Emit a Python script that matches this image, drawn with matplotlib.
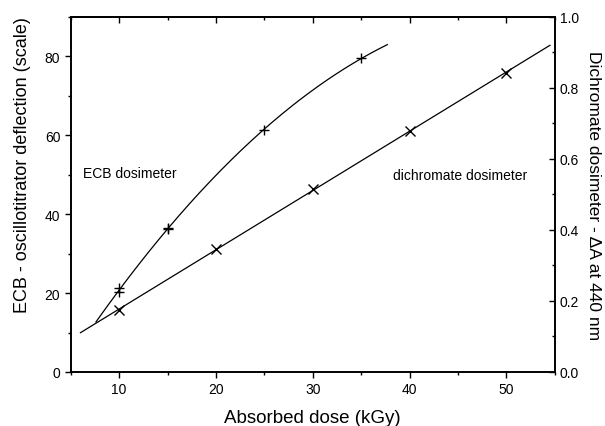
import matplotlib
matplotlib.use("Agg")
import matplotlib.pyplot as plt
from matplotlib.ticker import MultipleLocator
import numpy as np

plt.rcParams['font.family'] = ['Liberation Sans', 'DejaVu Sans']

# ECB dosimeter readings (scale deflection)
ecb_dose = [10, 10, 15, 15, 25, 35]
ecb_defl = [21.2, 20.2, 36.6, 36.2, 61.4, 79.5]
ecb_range = (7.6, 37.7)

# dichromate dosimeter readings (delta A at 440 nm)
dic_dose = [10, 20, 30, 40, 50]
dic_abs = [0.174, 0.346, 0.515, 0.679, 0.842]
dic_range = (6.0, 54.5)

fig = plt.figure(figsize=(6.05, 4.27), dpi=100)
ax = fig.add_axes([0.117, 0.1265, 0.8, 0.8315])
ax2 = ax.twinx()

# fitted curves
c = np.polyfit(ecb_dose, ecb_defl, 2)
xs = np.linspace(ecb_range[0], ecb_range[1], 200)
ax.plot(xs, np.polyval(c, xs), color='black', lw=0.9)
ax.plot(ecb_dose, ecb_defl, linestyle='none', marker='+', ms=7, mew=1.0, color='black')

d = np.polyfit(dic_dose, dic_abs, 1)
xd = np.linspace(dic_range[0], dic_range[1], 50)
ax2.plot(xd, np.polyval(d, xd), color='black', lw=0.9)
ax2.plot(dic_dose, dic_abs, linestyle='none', marker='x', ms=7, mew=1.0, color='black')

ax.set_xlim(5, 55)
ax.set_ylim(0, 90)
ax2.set_ylim(0, 1.0)

ax.xaxis.set_major_locator(MultipleLocator(10))
ax.xaxis.set_minor_locator(MultipleLocator(5))
ax.yaxis.set_major_locator(MultipleLocator(20))
ax.yaxis.set_minor_locator(MultipleLocator(10))
ax2.yaxis.set_major_locator(MultipleLocator(0.2))
ax2.yaxis.set_minor_locator(MultipleLocator(0.1))
ax2.yaxis.set_major_formatter(plt.FuncFormatter(lambda v, p: f"{v:.1f}"))

ax.tick_params(axis='x', which='both', direction='out', labelsize=10)
ax.tick_params(axis='y', which='both', direction='out', labelsize=10)
ax.tick_params(which='major', length=4, width=1)
ax.tick_params(which='minor', length=2.5, width=1)
ax2.tick_params(axis='y', which='both', direction='in', labelsize=10)
ax2.tick_params(which='major', length=4, width=1)
ax2.tick_params(which='minor', length=2.5, width=1)

# top ticks point inward
top = ax.secondary_xaxis('top')
top.xaxis.set_major_locator(MultipleLocator(10))
top.xaxis.set_minor_locator(MultipleLocator(5))
top.tick_params(which='both', direction='in', labeltop=False)
top.tick_params(which='major', length=4, width=1)
top.tick_params(which='minor', length=2.5, width=1)
top.spines['top'].set_linewidth(1.2)

for a in (ax, ax2):
    for s in a.spines.values():
        s.set_linewidth(1.2)

ax.set_xlabel("Absorbed dose (kGy)", fontsize=13.5, labelpad=9)
ax.set_ylabel("ECB - oscillotitrator deflection (scale)", fontsize=13)
ax.yaxis.set_label_coords(-0.082, 0.585)
ax2.set_ylabel("Dichromate dosimeter - \u0394A at 440 nm", fontsize=12.5,
               rotation=270, labelpad=16)

ax.text(6.25, 50.5, "ECB dosimeter", fontsize=10, va='center', ha='left')
ax.text(38.3, 50, "dichromate dosimeter", fontsize=10, va='center', ha='left')

fig.savefig("out.png", dpi=100)
